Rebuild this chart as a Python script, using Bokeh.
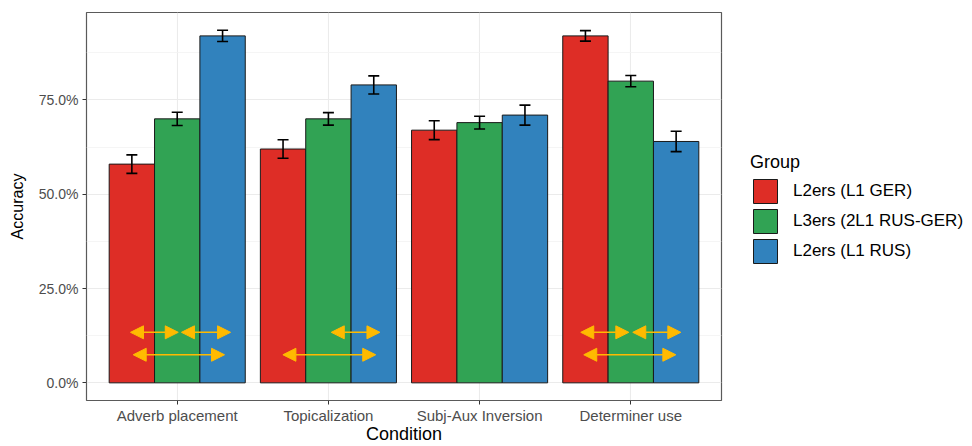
from bokeh.plotting import figure
from bokeh.layouts import row
from bokeh.models import (Range1d, FixedTicker, ColumnDataSource, Whisker, TeeHead,
                          Arrow, NormalHead, Legend, LegendItem)
from bokeh.embed import file_html
from bokeh.resources import INLINE

# ---------------- data ----------------
conditions = ["Adverb placement", "Topicalization", "Subj-Aux Inversion", "Determiner use"]
groups = ["L2ers (L1 GER)", "L3ers (2L1 RUS-GER)", "L2ers (L1 RUS)"]
acc_l2_ger = [58, 62, 67, 92]
acc_l3 = [70, 70, 69, 80]
acc_l2_rus = [92, 79, 71, 64]
se_l2_ger = [2.45, 2.45, 2.5, 1.4]
se_l3 = [1.75, 1.65, 1.7, 1.5]
se_l2_rus = [1.5, 2.4, 2.65, 2.7]
y_ticks = [0, 25, 50, 75]
y_tick_labels = ["0.0%", "25.0%", "50.0%", "75.0%"]
y_minor = [12.5, 37.5, 62.5, 87.5]
# comparison arrows (x in category units, y in %)
arrow_x_start = [0.691, 1.028, 0.709, 2.019, 1.699, 3.669, 4.013, 3.689]
arrow_x_end = [1.007, 1.353, 1.313, 2.341, 2.313, 3.987, 4.331, 4.298]
arrow_y = [13.4, 13.4, 7.45, 13.4, 7.45, 13.4, 13.4, 7.45]

colors = ["#de2d26", "#31a354", "#3182bd"]
offsets = [-0.3, 0.0, 0.3]
FONT = "Liberation Sans"
GOLD = "#FFBA00"

p = figure(width=724, height=446, output_backend="svg", toolbar_location=None,
           x_range=Range1d(0.4, 4.6), y_range=Range1d(-4.68, 98.2),
           min_border_left=86, min_border_right=3, min_border_top=12, min_border_bottom=44)
p.background_fill_color = "white"
p.border_fill_color = "white"
p.outline_line_color = "#5a5a5a"
p.outline_line_width = 1.2

# grids
p.xgrid.ticker = FixedTicker(ticks=[1, 2, 3, 4])
p.xgrid.grid_line_color = "#EBEBEB"
p.xgrid.grid_line_width = 1.1
p.ygrid.ticker = FixedTicker(ticks=y_ticks, minor_ticks=y_minor)
p.ygrid.grid_line_color = "#EBEBEB"
p.ygrid.grid_line_width = 1.1
p.ygrid.minor_grid_line_color = "#F3F3F3"
p.ygrid.minor_grid_line_width = 0.8

# axes
p.xaxis.ticker = FixedTicker(ticks=[1, 2, 3, 4])
p.xaxis.major_label_overrides = {i + 1: c for i, c in enumerate(conditions)}
p.yaxis.ticker = FixedTicker(ticks=y_ticks)
p.yaxis.major_label_overrides = {t: l for t, l in zip(y_ticks, y_tick_labels)}
p.xaxis.axis_label = "Condition"
p.yaxis.axis_label = "Accuracy"
for ax in (p.xaxis, p.yaxis):
    ax.axis_line_color = None
    ax.major_tick_line_color = "#333333"
    ax.major_tick_out = 4
    ax.major_tick_in = 0
    ax.minor_tick_out = 0
    ax.minor_tick_in = 0
    ax.major_label_text_font = FONT
    ax.major_label_text_color = "#4D4D4D"
    ax.axis_label_text_font = FONT
    ax.axis_label_text_font_style = "normal"
    ax.axis_label_text_color = "black"
p.xaxis.major_label_text_font_size = "15px"
p.yaxis.major_label_text_font_size = "14px"
p.xaxis.axis_label_text_font_size = "18px"
p.yaxis.axis_label_text_font_size = "16px"
p.xaxis.major_label_standoff = 2
p.xaxis.axis_label_standoff = -3
p.yaxis.major_label_standoff = 4
p.yaxis.axis_label_standoff = 10

vals = [acc_l2_ger, acc_l3, acc_l2_rus]
ses = [se_l2_ger, se_l3, se_l2_rus]
sources = []
for g, v, s, c, off in zip(groups, vals, ses, colors, offsets):
    xs = [i + 1 + off for i in range(len(conditions))]
    src = ColumnDataSource(dict(x=xs, top=v,
                                upper=[a + b for a, b in zip(v, s)],
                                lower=[a - b for a, b in zip(v, s)]))
    sources.append(src)
    p.vbar(x="x", top="top", bottom=0, width=0.3, source=src,
           fill_color=c, line_color="#1a1a1a", line_width=1)
    w = Whisker(base="x", upper="upper", lower="lower", source=src,
                line_color="black", line_width=1.6, level="overlay",
                upper_head=TeeHead(size=11, line_color="black", line_width=1.6),
                lower_head=TeeHead(size=11, line_color="black", line_width=1.6))
    p.add_layout(w)

for xs, xe, y in zip(arrow_x_start, arrow_x_end, arrow_y):
    a = Arrow(x_start=xs, y_start=y, x_end=xe, y_end=y,
              line_color=GOLD, line_width=1.6,
              start=NormalHead(size=13, fill_color=GOLD, line_color=GOLD, line_width=1),
              end=NormalHead(size=13, fill_color=GOLD, line_color=GOLD, line_width=1))
    p.add_layout(a)

# ---------------- legend panel (ranges chosen so its glyphs stay out of view) ----------------
pl = figure(width=248, height=446, output_backend="svg", toolbar_location=None,
            x_range=Range1d(-20, -19), y_range=Range1d(-20, -19),
            x_axis_location=None, y_axis_location=None, min_border=0)
pl.grid.visible = False
pl.outline_line_color = None
pl.background_fill_color = "white"
pl.border_fill_color = "white"
items = []
for g, c, src in zip(groups, colors, sources):
    r = pl.vbar(x="x", top="top", bottom=0, width=0.3, source=src,
                fill_color=c, line_color="#1a1a1a", line_width=1)
    items.append(LegendItem(label=g, renderers=[r]))
legend = Legend(items=items, location=(26, 134), title="Group",
                title_text_font=FONT, title_text_font_size="18px", title_text_font_style="normal",
                title_text_color="black", title_standoff=3,
                label_text_font=FONT, label_text_font_size="17px", label_text_color="black",
                glyph_width=30, glyph_height=30, label_standoff=13, spacing=0,
                padding=0, margin=0, border_line_color=None, background_fill_alpha=0)
pl.add_layout(legend)

layout = row(p, pl, spacing=0)
open("out.html", "w").write(file_html(layout, INLINE))
